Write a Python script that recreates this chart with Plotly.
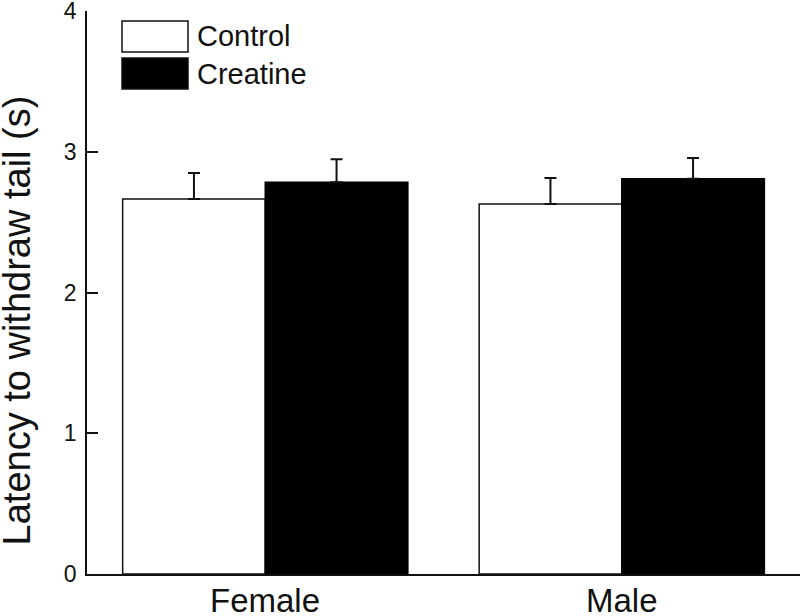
import plotly.graph_objects as go

categories = ["Female", "Male"]
series_names = ["Control", "Creatine"]
control = [2.665, 2.63]
control_err = [0.185, 0.185]
creatine = [2.785, 2.81]
creatine_err = [0.163, 0.147]
y_ticks = [0, 1, 2, 3, 4]

FONT = "Liberation Sans, Arial, sans-serif"
INK = "#111111"

fig = go.Figure()
fig.add_trace(go.Bar(
    x=categories, y=control, name=series_names[0],
    marker=dict(color="white", line=dict(color=INK, width=1.5)),
    error_y=dict(type="data", symmetric=False, array=control_err,
                 arrayminus=[0, 0], color=INK, thickness=2, width=6),
))
fig.add_trace(go.Bar(
    x=categories, y=creatine, name=series_names[1],
    marker=dict(color="black", line=dict(color="black", width=1.5)),
    error_y=dict(type="data", symmetric=False, array=creatine_err,
                 arrayminus=[0, 0], color=INK, thickness=2, width=6),
))

fig.update_layout(
    width=800, height=616,
    margin=dict(l=87, r=0, t=11, b=42, pad=0, autoexpand=False),
    paper_bgcolor="white", plot_bgcolor="white",
    barmode="group", bargap=0.2, bargroupgap=0,
    showlegend=False,
    font=dict(family=FONT, color=INK),
)
fig.update_xaxes(
    showline=True, linecolor=INK, linewidth=1.5,
    showgrid=False, zeroline=False, ticks="", showticklabels=False,
    range=[-0.5, 1.5], automargin=False,
)
fig.update_yaxes(
    range=[0, 4.002], tickvals=y_ticks, ticktext=[str(v) for v in y_ticks],
    showline=True, linecolor=INK, linewidth=1.5,
    showgrid=False, zeroline=False,
    ticks="inside", ticklen=11, tickwidth=1.5, tickcolor=INK,
    tickfont=dict(size=23, family=FONT, color=INK),
    ticklabelstandoff=4, automargin=False, ticklabeloverflow="allow",
)

# category labels under the axis
for cat in categories:
    fig.add_annotation(
        text=cat, xref="x", yref="paper", x=cat, y=-46 / 563,
        xanchor="center", yanchor="bottom", showarrow=False, borderpad=0,
        font=dict(size=33, family=FONT, color=INK),
    )

# y-axis title
fig.add_annotation(
    text="Latency to withdraw tail (s)", textangle=-90,
    xref="paper", yref="paper", x=-0.0985, y=0.45,
    xanchor="center", yanchor="middle", showarrow=False, borderpad=0,
    font=dict(size=38, family=FONT, color=INK),
)

# legend drawn as boxes + labels
legend_fills = ["white", "black"]
for i, (name, fill) in enumerate(zip(series_names, legend_fills)):
    y0_px = 21 + i * 37
    y1_px = y0_px + 31
    fig.add_shape(
        type="rect", xref="paper", yref="paper",
        x0=(122 - 87) / 713, x1=(188 - 87) / 713,
        y0=(574 - y1_px) / 563, y1=(574 - y0_px) / 563,
        line=dict(color=INK, width=1.5), fillcolor=fill,
    )
    fig.add_annotation(
        text=name, xref="paper", yref="paper",
        x=(195 - 87) / 713, y=(574 - (y0_px + y1_px) / 2) / 563,
        xanchor="left", yanchor="middle", showarrow=False,
        font=dict(size=29, family=FONT, color=INK),
    )

fig.write_html(
    "out.html",
    config={"displayModeBar": False},
    post_script="document.body.style.margin='0';document.body.style.padding='0';",
)
